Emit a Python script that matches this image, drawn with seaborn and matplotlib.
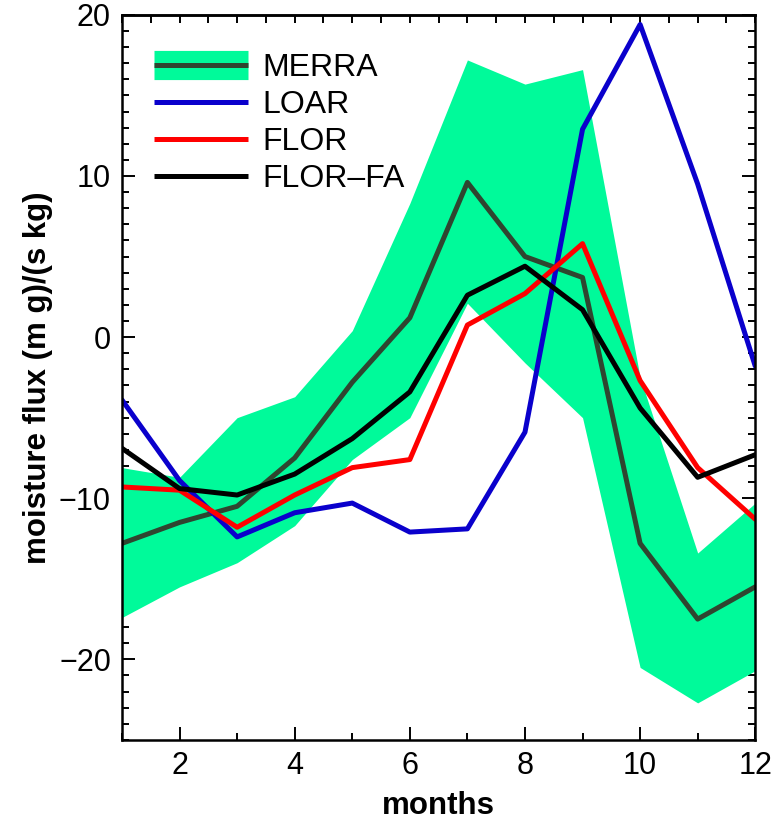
import numpy as np
import pandas as pd
import matplotlib
matplotlib.use("Agg")
import matplotlib.pyplot as plt
import seaborn as sns
from matplotlib.lines import Line2D
from matplotlib.ticker import MultipleLocator

# valeurs
months = np.arange(1, 13)
merra = [-12.8, -11.5, -10.5, -7.5, -2.8, 1.2, 9.6, 5.0, 3.7, -12.8, -17.5, -15.5]
merra_hi = [-8.1, -8.7, -5.0, -3.7, 0.4, 8.3, 17.2, 15.7, 16.6, -2.5, -13.4, -10.3]
merra_lo = [-17.4, -15.5, -14.0, -11.7, -7.6, -5.0, 2.1, -1.6, -5.0, -20.5, -22.7, -20.7]
loar = [-3.9, -8.9, -12.4, -10.9, -10.3, -12.1, -11.9, -5.9, 12.9, 19.4, 9.5, -1.8]
flor = [-9.3, -9.5, -11.8, -9.8, -8.1, -7.6, 0.75, 2.7, 5.8, -2.7, -8.1, -11.3]
flor_fa = [-6.9, -9.4, -9.8, -8.5, -6.3, -3.4, 2.6, 4.4, 1.7, -4.4, -8.7, -7.3]

df = pd.DataFrame({'month': months, 'MERRA': merra, 'LOAR': loar,
                   'FLOR': flor, 'FLOR-FA': flor_fa})

c_band = '#00FA9A'
c_merra = '#2f4530'
c_loar = '#0a00cc'
c_flor = '#ff0000'
c_fa = '#000000'

sns.set_style('ticks')
plt.rcParams['font.family'] = ['Liberation Sans', 'DejaVu Sans']
plt.rcParams.update({'text.color': 'black', 'axes.labelcolor': 'black',
                     'xtick.color': 'black', 'ytick.color': 'black',
                     'axes.edgecolor': 'black'})

fig = plt.figure(figsize=(7.77, 8.24), dpi=100)
ax = fig.add_axes([0.157, 0.102, 0.815, 0.88])

ax.fill_between(df['month'], merra_lo, merra_hi, color=c_band, linewidth=0)
lw = 3.6
sns.lineplot(data=df, x='month', y='MERRA', color=c_merra, lw=lw, ax=ax)
sns.lineplot(data=df, x='month', y='LOAR', color=c_loar, lw=lw, ax=ax)
sns.lineplot(data=df, x='month', y='FLOR', color=c_flor, lw=lw, ax=ax)
sns.lineplot(data=df, x='month', y='FLOR-FA', color=c_fa, lw=lw, ax=ax)

ax.set_xlim(1, 12)
ax.set_ylim(-25, 20)
ax.xaxis.set_major_locator(MultipleLocator(2))
ax.xaxis.set_minor_locator(MultipleLocator(1))
ax.yaxis.set_major_locator(MultipleLocator(10))
ax.yaxis.set_minor_locator(MultipleLocator(1))
ax.tick_params(which='both', direction='in', width=1.4, labelsize=22,
               right=True, top=False, pad=8)
ax.tick_params(which='major', length=9.5)
ax.tick_params(which='minor', length=5)
ax.set_yticklabels([f"{int(t)}".replace('-', '\u2212') for t in ax.get_yticks()])

top = ax.secondary_xaxis('top')
top.xaxis.set_major_locator(MultipleLocator(0.5))
top.tick_params(direction='in', length=6, width=1.4, labeltop=False)

for s in ax.spines.values():
    s.set_linewidth(1.8)
top.spines['top'].set_linewidth(1.8)

ax.set_xlabel('months', fontsize=22.5, fontweight='bold', labelpad=7)
ax.set_ylabel('moisture flux (m g)/(s kg)', fontsize=22.5, fontweight='bold', labelpad=4)

handles = [
    (Line2D([], [], color=c_band, lw=21, solid_capstyle='butt'),
     Line2D([], [], color=c_merra, lw=lw, solid_capstyle='butt')),
    Line2D([], [], color=c_loar, lw=lw, solid_capstyle='butt'),
    Line2D([], [], color=c_flor, lw=lw, solid_capstyle='butt'),
    Line2D([], [], color=c_fa, lw=lw, solid_capstyle='butt'),
]
ax.legend(handles, ['MERRA', 'LOAR', 'FLOR', 'FLOR\u2013FA'], loc='upper left',
          bbox_to_anchor=(0.03, 0.965), frameon=False, fontsize=23,
          handlelength=2.95, handletextpad=0.45, labelspacing=0.22,
          borderaxespad=0.0)

fig.savefig('out.png', dpi=100)
